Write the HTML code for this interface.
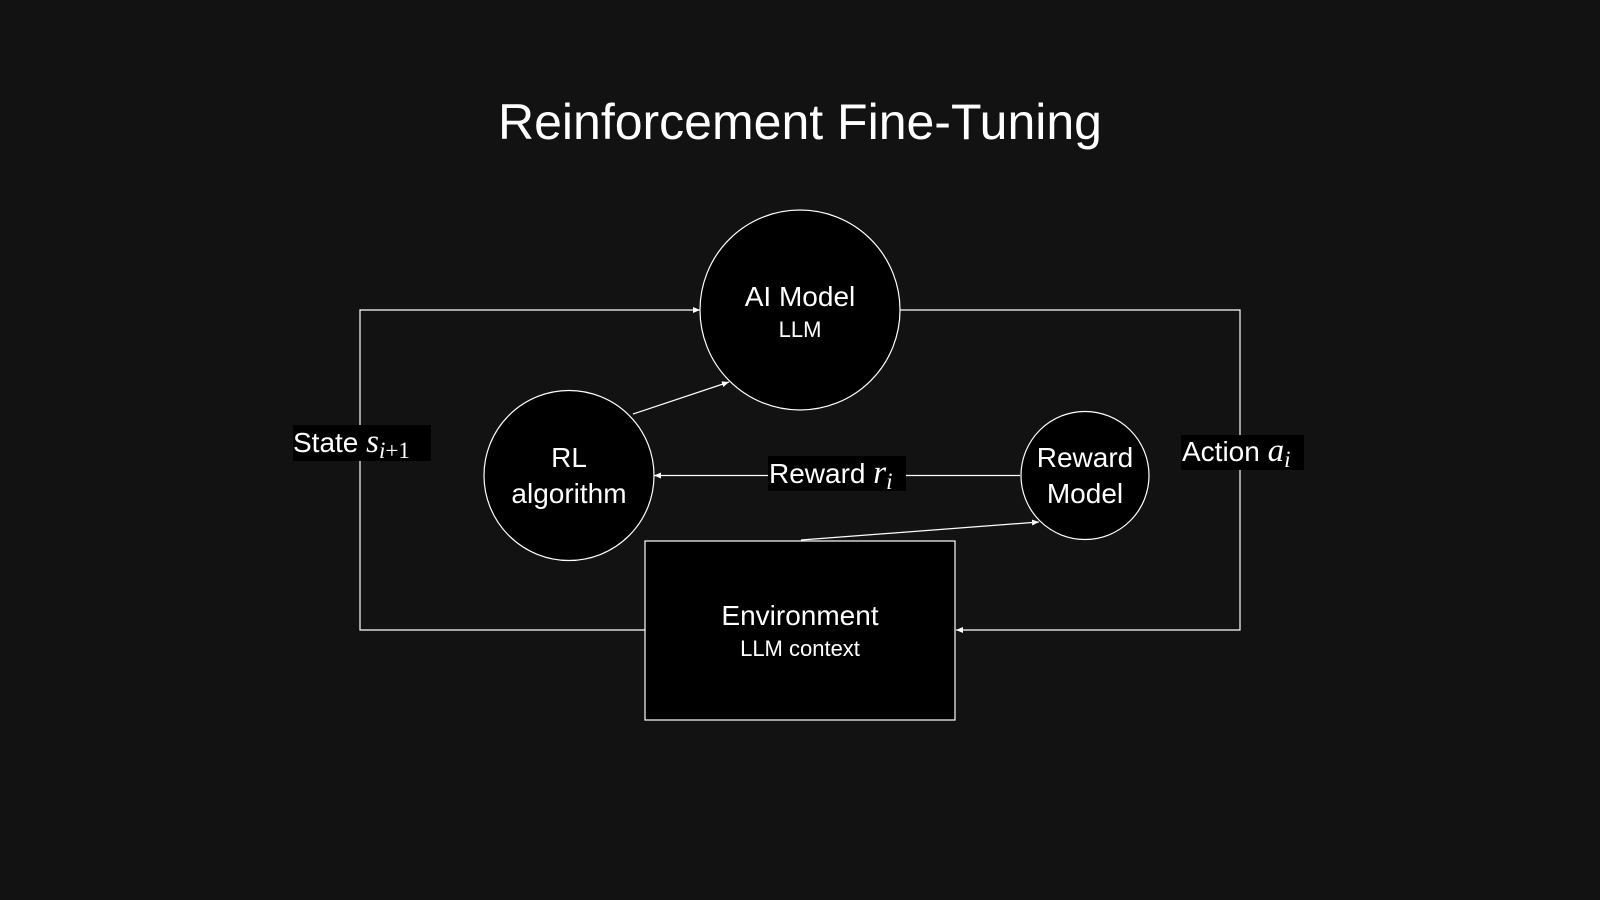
<!DOCTYPE html>
<html><head><style>
body{margin:0;background:#121212;}
svg{display:block;font-family:"Liberation Sans",sans-serif;}
</style></head><body>
<svg width="1600" height="900" viewBox="0 0 1600 900">
<defs><marker id="a" markerWidth="8" markerHeight="8" refX="7" refY="4" orient="auto" markerUnits="userSpaceOnUse"><path d="M0,1 L7,4 L0,7 z" fill="#fff"/></marker></defs>
<rect width="1600" height="900" fill="#121212"/>
<text x="800" y="139" fill="#fff" font-size="50" text-anchor="middle">Reinforcement Fine-Tuning</text>
<g stroke="#fff" stroke-width="1.2" fill="none">
<polyline points="645,630 360,630 360,310 700,310" marker-end="url(#a)"/>
<polyline points="900,310 1240,310 1240,630 956,630" marker-end="url(#a)"/>
<line x1="1020" y1="475.5" x2="654" y2="475.5" marker-end="url(#a)"/>
<line x1="633" y1="414" x2="729" y2="382" marker-end="url(#a)"/>
<line x1="801" y1="540" x2="1039" y2="522" marker-end="url(#a)"/>
</g>
<g stroke="#fff" stroke-width="1.2" fill="#000">
<circle cx="800" cy="310" r="100"/>
<circle cx="569" cy="475.5" r="85"/>
<circle cx="1085" cy="475.5" r="64"/>
<rect x="645" y="541" width="310" height="179"/>
</g>
<rect x="293" y="425" width="138" height="36" fill="#000"/>
<rect x="1181" y="435" width="123" height="35" fill="#000"/>
<rect x="768" y="456" width="138" height="35" fill="#000"/>
<g fill="#fff" text-anchor="middle" font-size="28">
<text x="800" y="306">AI Model</text>
<text x="800" y="337" font-size="22">LLM</text>
<text x="569" y="467">RL</text>
<text x="569" y="503">algorithm</text>
<text x="1085" y="467">Reward</text>
<text x="1085" y="503">Model</text>
<text x="800" y="625">Environment</text>
<text x="800" y="656" font-size="22">LLM context</text>
</g>
<g fill="#fff" font-size="28">
<text x="293" y="452">State <tspan font-family="Liberation Serif" font-style="italic" font-size="33">s</tspan><tspan font-family="Liberation Serif" font-style="italic" font-size="23" dy="6">i</tspan><tspan font-family="Liberation Serif" font-size="23">+1</tspan></text>
<text x="1182" y="461">Action <tspan font-family="Liberation Serif" font-style="italic" font-size="33">a</tspan><tspan font-family="Liberation Serif" font-style="italic" font-size="23" dy="6">i</tspan></text>
<text x="769" y="483">Reward <tspan font-family="Liberation Serif" font-style="italic" font-size="33">r</tspan><tspan font-family="Liberation Serif" font-style="italic" font-size="23" dy="6">i</tspan></text>
</g>
</svg>
</body></html>
